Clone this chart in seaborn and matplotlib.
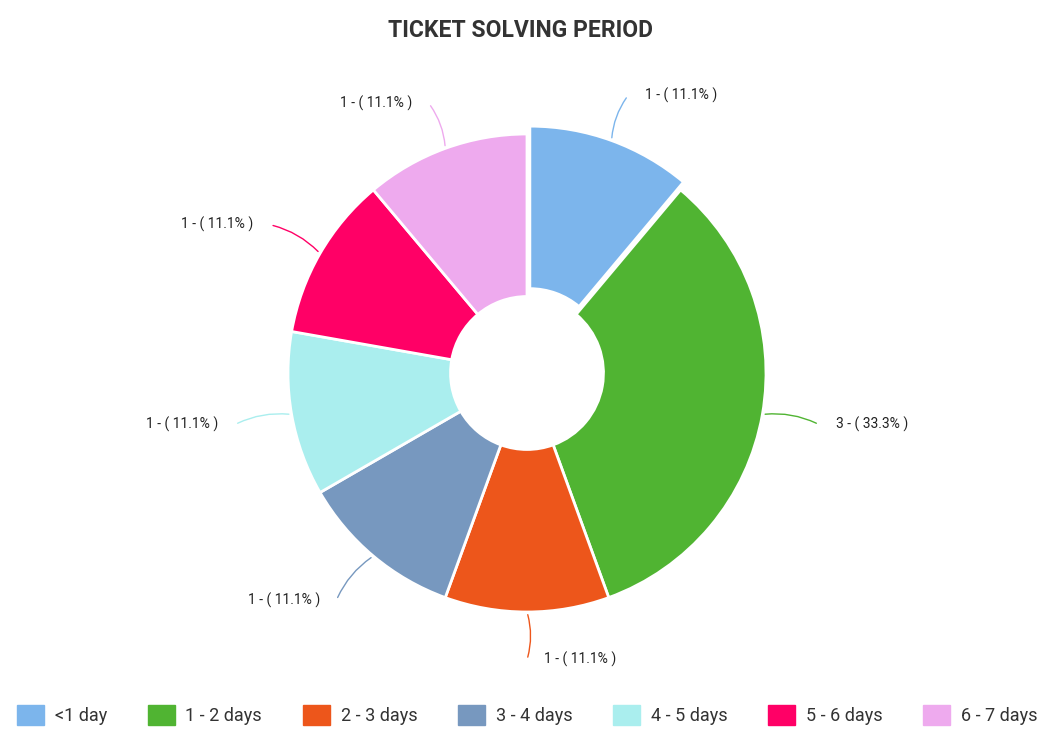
import numpy as np
import matplotlib
matplotlib.use("Agg")
import matplotlib.pyplot as plt
import matplotlib.patches as mpatches
import seaborn as sns

# data
categories = ["<1 day", "1 - 2 days", "2 - 3 days", "3 - 4 days", "4 - 5 days", "5 - 6 days", "6 - 7 days"]
counts = [1, 3, 1, 1, 1, 1, 1]
colors = ["#7cb5ec", "#50b432", "#ed561b", "#7798bf", "#aaeeee", "#ff0066", "#eeaaee"]
explode = [0.035, 0, 0, 0, 0, 0, 0]

sns.set_theme(style="white")
plt.rcParams['font.family'] = ['Roboto', 'DejaVu Sans']

fig = plt.figure(figsize=(10.42, 7.51), dpi=100)
# axes centred on the pie centre (527, 373) px, radius ~239 px
half = 350
cx_px, cy_px, r_px = 527, 373, 239
ax = fig.add_axes([(cx_px - half) / 1042, (751 - cy_px - half) / 751, 2 * half / 1042, 2 * half / 751])
lim = half / r_px

pal = sns.color_palette(colors)
wedges, _ = ax.pie(counts, colors=pal, startangle=90, counterclock=False, explode=explode,
                   radius=1, wedgeprops=dict(width=0.68, edgecolor="white", linewidth=2),
                   frame=True)
ax.set_xlim(-lim, lim)
ax.set_ylim(-lim, lim)
ax.set_aspect("equal")
ax.axis("off")

total = sum(counts)
for w, c, col, ex in zip(wedges, counts, pal, explode):
    mid = np.deg2rad((w.theta1 + w.theta2) / 2)
    cx, cy = np.cos(mid), np.sin(mid)
    sx, sy = (1 + ex) * cx, (1 + ex) * cy
    r_end = 1.2 if abs(cy) > 0.8 else 1.24
    ex_, ey = (r_end + ex) * cx, (r_end + ex) * cy
    right = cx >= -0.01
    ax.annotate("", xy=(sx, sy), xytext=(ex_, ey),
                arrowprops=dict(arrowstyle="-", color=col, lw=1,
                                connectionstyle="arc3,rad=%s" % (0.15 if right else -0.15)))
    tx = ex_ + (0.07 if right else -0.07)
    ax.text(tx, ey, "%d - ( %.1f%% )" % (c, 100 * c / total), ha="left" if right else "right",
            va="center", fontsize=10, color="#222222")

fig.suptitle("TICKET SOLVING PERIOD", y=0.96, va="center", fontsize=16.5, fontweight="bold", color="#333333")

handles = [mpatches.Patch(color=col) for col in pal]
fig.legend(handles, categories, loc="center", bbox_to_anchor=(0.506, 0.048), ncol=7, frameon=False,
           fontsize=13, handlelength=1.5, handleheight=1.3, columnspacing=2.25, handletextpad=0.6,
           labelcolor="#333333")

fig.savefig("out.png", dpi=100, facecolor="white")
